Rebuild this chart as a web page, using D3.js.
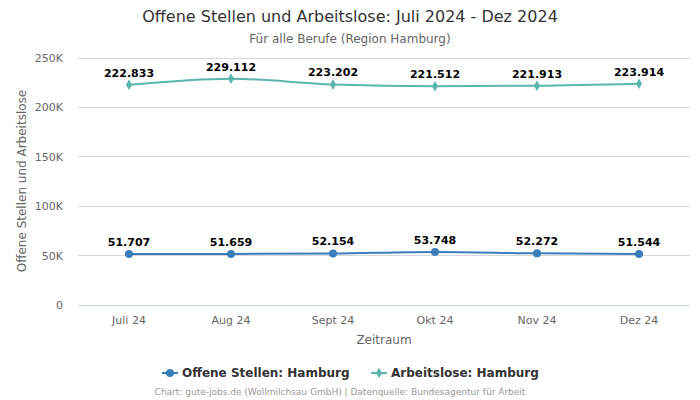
<!DOCTYPE html>
<html><head><meta charset="utf-8">
<script src="https://cdn.jsdelivr.net/npm/d3@7"></script>
<style>body{margin:0;background:#fff;} text{font-family:"DejaVu Sans",sans-serif;}</style>
</head><body>
<svg id="c" width="700" height="400"></svg>
<script>
const categories = ["Juli 24","Aug 24","Sept 24","Okt 24","Nov 24","Dez 24"];
const offeneStellen = [51707,51659,52154,53748,52272,51544];
const arbeitslose = [222833,229112,223202,221512,221913,223914];
const yTicks = [0,50000,100000,150000,200000,250000];
const seriesNames = ["Offene Stellen: Hamburg","Arbeitslose: Hamburg"];
const colors = ["#3a7dbd","#5ab5ad"];

const svg = d3.select("#c");
const m = {l:78, r:690, t:58, b:305};
const x = d3.scaleBand().domain(categories).range([m.l,m.r]);
const y = d3.scaleLinear().domain([0,250000]).range([m.b,m.t]);
const fmtTick = v => v===0 ? "0" : (v/1000)+"K";
const fmtVal = v => d3.format(",")(v).replace(/,/g,".");

// grid
svg.append("g").selectAll("line").data(yTicks).join("line")
  .attr("x1",m.l).attr("x2",m.r).attr("y1",d=>y(d)).attr("y2",d=>y(d))
  .attr("stroke",d=>d===0?"#ccd6eb":"#d8d8d8").attr("stroke-width",1)
  .attr("shape-rendering","crispEdges");
svg.append("g").selectAll("text").data(yTicks).join("text")
  .attr("x",m.l-15).attr("y",d=>y(d)+4).attr("text-anchor","end")
  .attr("font-size",11).attr("fill","#666").text(fmtTick);
svg.append("g").selectAll("text").data(categories).join("text")
  .attr("x",d=>x(d)+x.bandwidth()/2).attr("y",m.b+19).attr("text-anchor","middle")
  .attr("font-size",11).attr("fill","#666").text(d=>d);

// titles
svg.append("text").attr("x",350).attr("y",22).attr("text-anchor","middle")
  .attr("font-size",16).attr("fill","#333")
  .text("Offene Stellen und Arbeitslose: Juli 2024 - Dez 2024");
svg.append("text").attr("x",350).attr("y",43).attr("text-anchor","middle")
  .attr("font-size",12).attr("fill","#666")
  .text("Für alle Berufe (Region Hamburg)");
svg.append("text").attr("transform","translate(26,181) rotate(-90)").attr("text-anchor","middle")
  .attr("font-size",12).attr("fill","#666").text("Offene Stellen und Arbeitslose");
svg.append("text").attr("x",384).attr("y",344).attr("text-anchor","middle")
  .attr("font-size",12).attr("fill","#666")
  .text("Zeitraum");

const series = [offeneStellen, arbeitslose];
const line = d3.line().x((d,i)=>x(categories[i])+x.bandwidth()/2).y(d=>y(d)).curve(d3.curveMonotoneX);
series.forEach((s,k)=>{
  const g = svg.append("g");
  g.append("path").datum(s).attr("d",line).attr("fill","none").attr("stroke",colors[k]).attr("stroke-width",2);
  if(k===0){
    g.selectAll("circle").data(s).join("circle")
      .attr("cx",(d,i)=>x(categories[i])+x.bandwidth()/2).attr("cy",d=>y(d)).attr("r",4).attr("fill",colors[k]);
  } else {
    g.selectAll("path.m").data(s).join("path").attr("class","m")
      .attr("d",d3.symbol(d3.symbolDiamond,32)())
      .attr("transform",(d,i)=>`translate(${x(categories[i])+x.bandwidth()/2},${y(d)})`).attr("fill",colors[k]);
  }
  g.selectAll("text").data(s).join("text")
    .attr("x",(d,i)=>x(categories[i])+x.bandwidth()/2).attr("y",d=>y(d)-8)
    .attr("text-anchor","middle").attr("font-size",11).attr("font-weight","bold").attr("fill","#000")
    .text(fmtVal);
});

// legend
const lg = svg.append("g");
const items = [{x:162,name:seriesNames[0]},{x:371,name:seriesNames[1]}];
items.forEach((it,k)=>{
  lg.append("line").attr("x1",it.x).attr("x2",it.x+16).attr("y1",373).attr("y2",373).attr("stroke",colors[k]).attr("stroke-width",2);
  if(k===0) lg.append("circle").attr("cx",it.x+8).attr("cy",373).attr("r",4).attr("fill",colors[k]);
  else lg.append("path").attr("d",d3.symbol(d3.symbolDiamond,32)()).attr("transform",`translate(${it.x+8},373)`).attr("fill",colors[k]);
  lg.append("text").attr("x",it.x+20).attr("y",377).attr("font-size",12).attr("font-weight","bold").attr("fill","#333")
    .text(it.name);
});
svg.append("text").attr("x",340).attr("y",395).attr("text-anchor","middle")
  .attr("font-size",9).attr("fill","#999")
  .text("Chart: gute-jobs.de (Wollmilchsau GmbH) | Datenquelle: Bundesagentur für Arbeit");
</script>
</body></html>
